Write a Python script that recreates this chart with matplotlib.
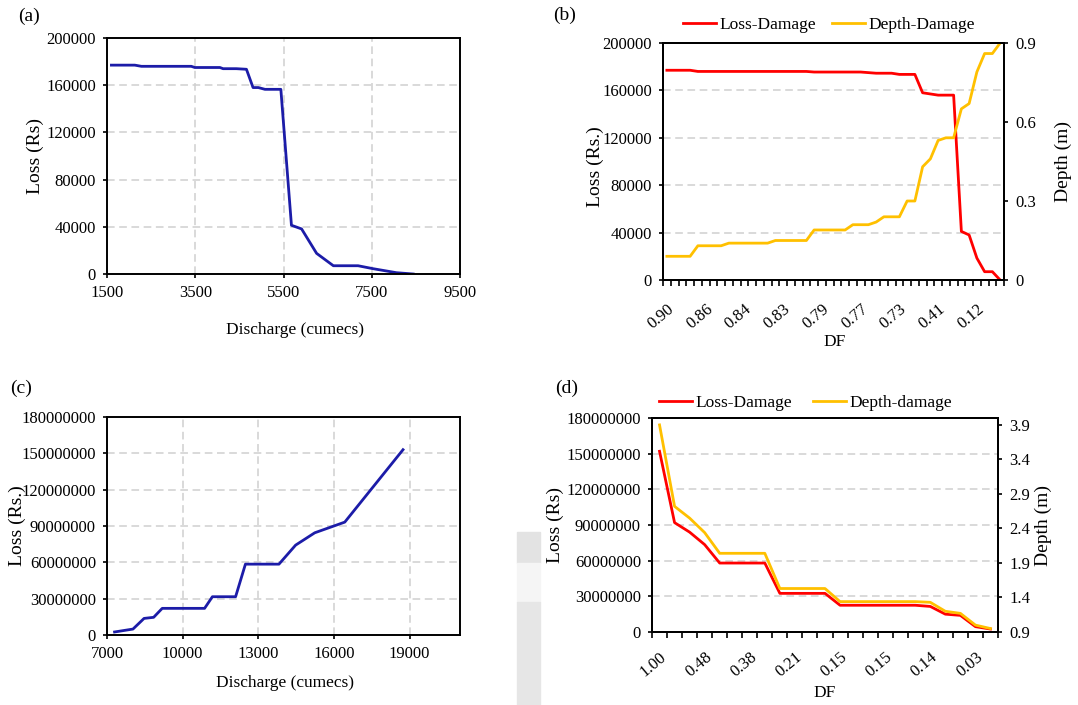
import numpy as np
import matplotlib.pyplot as plt
from matplotlib import ticker
from matplotlib.patches import Rectangle

plt.rcParams['font.family'] = ['Liberation Serif', 'DejaVu Serif']

# ---- data ----
# (a) loss vs discharge
q_a = [1600, 2130, 2280, 3410, 3490, 4060, 4130, 4430, 4660, 4810, 4930,
       5080, 5440, 5680, 5910, 6250, 6630, 7190, 7530, 8060, 8440]
loss_a = [177000, 177000, 176000, 176000, 175000, 175000, 174000, 174000,
          173500, 158000, 158000, 156500, 156500, 41300, 38200, 17500,
          7000, 7000, 4500, 1100, 0]

# (b) loss-damage / depth-damage against DF (44 categories, every 5th labelled)
df_labels_b = ['0.90', '0.86', '0.84', '0.83', '0.79', '0.77', '0.73', '0.41', '0.12']
loss_b = [177000, 177000, 177000, 177000, 176000, 176000, 176000, 176000,
          176000, 176000, 176000, 176000, 176000, 176000, 176000, 176000,
          176000, 176000, 176000, 175500, 175500, 175500, 175500, 175500,
          175500, 175500, 175000, 174500, 174500, 174500, 173500, 173500,
          173500, 158000, 157000, 156000, 156000, 156000, 41000, 38000,
          18500, 7000, 7000, 0]
depth_b = [0.09, 0.09, 0.09, 0.09, 0.13, 0.13, 0.13, 0.13, 0.14, 0.14, 0.14,
           0.14, 0.14, 0.14, 0.15, 0.15, 0.15, 0.15, 0.15, 0.19, 0.19, 0.19,
           0.19, 0.19, 0.21, 0.21, 0.21, 0.22, 0.24, 0.24, 0.24, 0.30, 0.30,
           0.43, 0.46, 0.53, 0.54, 0.54, 0.65, 0.67, 0.79, 0.86, 0.86, 0.90]

# (c) loss vs discharge
q_c = [7300, 8030, 8470, 8850, 9190, 10870, 11180, 12100, 12490, 13820,
       14480, 15240, 16430, 18740]
loss_c = [2.5e6, 4.9e6, 13.7e6, 14.6e6, 22e6, 22e6, 31.6e6, 31.6e6, 58.5e6,
          58.5e6, 74.2e6, 84.4e6, 93.2e6, 153e6]

# (d) loss-damage / depth-damage against DF (23 categories, every 3rd labelled)
df_labels_d = ['1.00', '0.48', '0.38', '0.21', '0.15', '0.15', '0.14', '0.03']
loss_d = [152e6, 92e6, 84e6, 73.5e6, 58e6, 58e6, 58e6, 58e6, 32.5e6, 32.5e6,
          32.5e6, 32.5e6, 22.5e6, 22.5e6, 22.5e6, 22.5e6, 22.5e6, 22.5e6,
          21.5e6, 15e6, 14e6, 4.5e6, 2.5e6]
depth_d = [3.9, 2.72, 2.55, 2.34, 2.04, 2.04, 2.04, 2.04, 1.53, 1.53, 1.53,
           1.53, 1.34, 1.34, 1.34, 1.34, 1.34, 1.34, 1.33, 1.20, 1.17, 1.00, 0.95]

BLUE = '#1c1ca8'
RED = '#ff0000'
GOLD = '#ffc000'
GRID = '#d0d0d0'
TICK_FS = 12

W, H = 1078, 705
fig = plt.figure(figsize=(W / 100, H / 100), dpi=100)


def box(l, t, r, b):
    return [l / W, 1 - b / H, (r - l) / W, (b - t) / H]


def style(ax):
    for s in ax.spines.values():
        s.set_linewidth(1.4)
        s.set_color('black')
    ax.tick_params(which='both', direction='out', length=3, width=1.2,
                   labelsize=TICK_FS, pad=5)
    ax.set_axisbelow(True)


def grid(ax, axis):
    ax.grid(True, axis=axis, color=GRID, linestyle=(0, (5, 3)), linewidth=1.1)


plain = ticker.FuncFormatter(lambda v, p: f'{v:.0f}')

# gray scan artefact between the left and right panels
for y0, y1, c in [(532, 563, '#e3e3e3'), (563, 602, '#f5f5f5'), (602, 705, '#e6e6e6')]:
    fig.patches.append(Rectangle((517 / W, 1 - y1 / H), 23 / W, (y1 - y0) / H,
                                 transform=fig.transFigure, color=c, zorder=0))

# ---- (a) ----
ax = fig.add_axes(box(107, 38, 460, 274))
style(ax)
ax.plot(q_a, loss_a, color=BLUE, lw=2)
ax.set_xlim(1500, 9500)
ax.set_ylim(0, 200000)
ax.set_xticks(np.arange(1500, 9501, 2000))
ax.set_yticks(np.arange(0, 200001, 40000))
grid(ax, 'both')
ax.set_xlabel('Discharge (cumecs)', fontsize=12.5, va='center', ha='center')
ax.xaxis.set_label_coords(0.533, -0.237)
ax.set_ylabel('Loss (Rs)', fontsize=14, va='center', ha='center')
ax.yaxis.set_label_coords(-0.204, 0.5)
fig.text(18 / W, 1 - 16 / H, '(a)', fontsize=14, va='center')

# ---- (b) ----
ax = fig.add_axes(box(663, 43, 1004, 280))
style(ax)
cats_b = np.arange(len(loss_b))
l1, = ax.plot(cats_b, loss_b, color=RED, lw=2, label='Loss-Damage')
ax.set_xlim(-0.5, len(loss_b) - 0.5)
ax.set_ylim(0, 200000)
ax.set_yticks(np.arange(0, 200001, 40000))
grid(ax, 'y')
ax.set_xticks(np.arange(0, 5 * len(df_labels_b), 5))
ax.set_xticklabels(df_labels_b, rotation=40, ha='right', va='top',
                   rotation_mode='anchor')
ax.set_xticks(np.arange(-0.5, len(loss_b), 1), minor=True)
ax.tick_params(axis='x', which='major', length=0, pad=15)
ax.tick_params(axis='x', which='minor', length=4)
ax.set_xlabel('DF', fontsize=12.5, va='center', ha='center')
ax.xaxis.set_label_coords(0.504, -0.262)
ax.set_ylabel('Loss (Rs.)', fontsize=14, va='center', ha='center')
ax.yaxis.set_label_coords(-0.199, 0.477)
ax2 = ax.twinx()
style(ax2)
l2, = ax2.plot(cats_b, depth_b, color=GOLD, lw=2, label='Depth-Damage')
ax2.set_ylim(0, 0.9)
ax2.set_yticks([0, 0.3, 0.6, 0.9])
ax2.set_yticklabels(['0', '0.3', '0.6', '0.9'])
ax2.set_ylabel('Depth (m)', fontsize=14, va='center', ha='center', rotation=90)
ax2.yaxis.set_label_coords(1.173, 0.5)
ax2.legend([l1, l2], ['Loss-Damage', 'Depth-Damage'], loc='center',
           bbox_to_anchor=(0.487, 1.076), ncol=2, frameon=False, fontsize=12.5,
           handlelength=1.9, handletextpad=0.2, columnspacing=0.9)
fig.text(553 / W, 1 - 15 / H, '(b)', fontsize=14, va='center')

# ---- (c) ----
ax = fig.add_axes(box(107, 417, 460, 635))
style(ax)
ax.plot(q_c, loss_c, color=BLUE, lw=2)
ax.set_xlim(7000, 21000)
ax.set_ylim(0, 180e6)
ax.set_xticks(np.arange(7000, 19001, 3000))
ax.set_yticks(np.arange(0, 180e6 + 1, 30e6))
ax.yaxis.set_major_formatter(plain)
grid(ax, 'both')
ax.set_xlabel('Discharge (cumecs)', fontsize=12.5, va='center', ha='center')
ax.xaxis.set_label_coords(0.504, -0.22)
ax.set_ylabel('Loss (Rs.)', fontsize=14, va='center', ha='center')
ax.yaxis.set_label_coords(-0.255, 0.5)
fig.text(10 / W, 1 - 388 / H, '(c)', fontsize=14, va='center')

# ---- (d) ----
ax = fig.add_axes(box(652, 418, 998, 632))
style(ax)
cats_d = np.arange(len(loss_d))
l1, = ax.plot(cats_d, loss_d, color=RED, lw=2)
ax.set_xlim(-0.5, len(loss_d) - 0.5)
ax.set_ylim(0, 180e6)
ax.set_yticks(np.arange(0, 180e6 + 1, 30e6))
ax.yaxis.set_major_formatter(plain)
grid(ax, 'y')
ax.set_xticks(np.arange(0, 3 * len(df_labels_d), 3))
ax.set_xticklabels(df_labels_d, rotation=40, ha='right', va='top',
                   rotation_mode='anchor')
ax.set_xticks(np.arange(-0.5, len(loss_d), 1), minor=True)
ax.tick_params(axis='x', which='major', length=0, pad=12)
ax.tick_params(axis='x', which='minor', length=4)
ax.set_xlabel('DF', fontsize=12.5, va='center', ha='center')
ax.xaxis.set_label_coords(0.5, -0.285)
ax.set_ylabel('Loss (Rs)', fontsize=14, va='center', ha='center')
ax.yaxis.set_label_coords(-0.28, 0.5)
ax2 = ax.twinx()
style(ax2)
l2, = ax2.plot(cats_d, depth_d, color=GOLD, lw=2)
ax2.set_ylim(0.9, 4.0)
ax2.set_yticks(np.arange(0.9, 3.91, 0.5))
ax2.yaxis.set_major_formatter(ticker.FormatStrFormatter('%.1f'))
ax2.set_ylabel('Depth (m)', fontsize=14, va='center', ha='center', rotation=90)
ax2.yaxis.set_label_coords(1.13, 0.5)
ax2.legend([l1, l2], ['Loss-Damage', 'Depth-damage'], loc='center',
           bbox_to_anchor=(0.445, 1.07), ncol=2, frameon=False, fontsize=12.5,
           handlelength=1.9, handletextpad=0.2, columnspacing=1.2)
fig.text(555 / W, 1 - 388 / H, '(d)', fontsize=14, va='center')

fig.savefig('out.png', dpi=100)
